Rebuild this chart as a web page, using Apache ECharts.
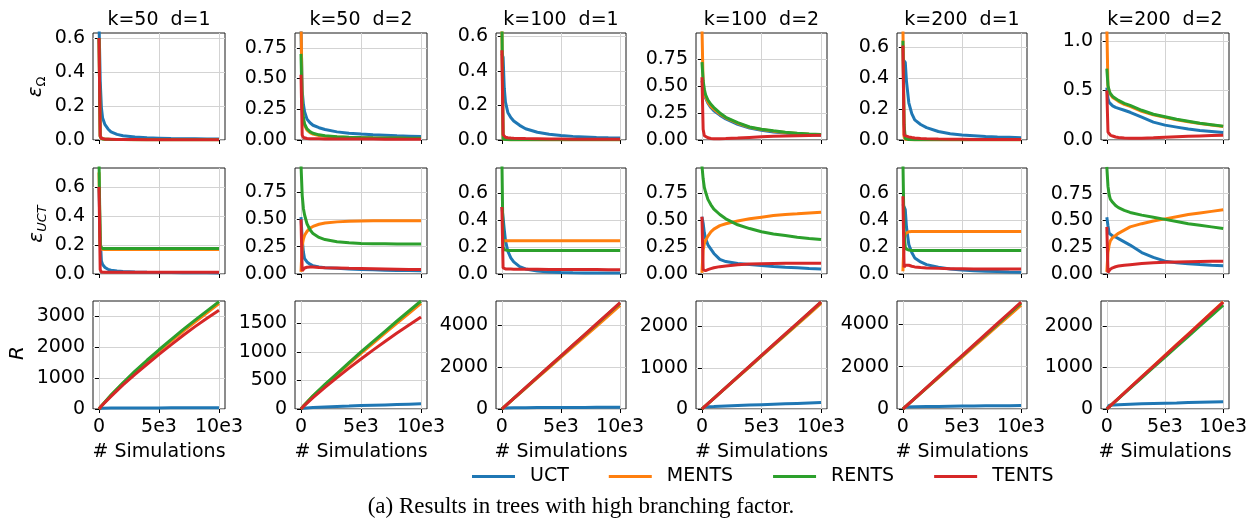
<!DOCTYPE html>
<html>
<head>
<meta charset="utf-8">
<script src="https://cdn.jsdelivr.net/npm/echarts@6/dist/echarts.min.js"></script>
<style>
html,body{margin:0;padding:0;background:#fff;}
#chart{width:1254px;height:523px;}
</style>
</head>
<body>
<div id="chart"></div>
<script>
// ---------- data ----------
const methods = ['UCT', 'MENTS', 'RENTS', 'TENTS'];
const panelTitles = ['k=50  d=1', 'k=50  d=2', 'k=100  d=1', 'k=100  d=2', 'k=200  d=1', 'k=200  d=2'];
const sims = [0, 100, 200, 300, 500, 750, 1000, 1500, 2000, 3000, 4000, 5000, 6000, 7000, 8000, 9000, 10000];
const simsR = [0, 200, 1000, 2000, 3000, 4000, 5000, 6000, 7000, 8000, 9000, 10000];
const xTickValues = [0, 5000, 10000];
const xTickLabels = ['0', '5e3', '10e3'];

// row 1: epsilon_Omega
const eOm_k50d1_UCT   = [0.7, 0.35, 0.19, 0.13, 0.09, 0.065, 0.048, 0.033, 0.025, 0.017, 0.013, 0.011, 0.009, 0.008, 0.007, 0.006, 0.006];
const eOm_k50d1_MENTS = [0.6, 0.02, 0.008, 0.006, 0.004, 0.004, 0.003, 0.003, 0.003, 0.002, 0.002, 0.002, 0.002, 0.002, 0.002, 0.002, 0.002];
const eOm_k50d1_RENTS = [0.6, 0.02, 0.009, 0.006, 0.005, 0.004, 0.003, 0.003, 0.003, 0.002, 0.002, 0.002, 0.002, 0.002, 0.002, 0.002, 0.002];
const eOm_k50d1_TENTS = [0.6, 0.025, 0.01, 0.007, 0.005, 0.004, 0.004, 0.003, 0.003, 0.003, 0.002, 0.002, 0.002, 0.002, 0.002, 0.002, 0.002];

const eOm_k50d2_UCT   = [0.9, 0.4, 0.29, 0.23, 0.17, 0.14, 0.12, 0.1, 0.085, 0.066, 0.055, 0.048, 0.042, 0.038, 0.034, 0.031, 0.028];
const eOm_k50d2_MENTS = [1.0, 0.25, 0.16, 0.12, 0.08, 0.06, 0.048, 0.036, 0.03, 0.024, 0.02, 0.018, 0.016, 0.015, 0.014, 0.013, 0.012];
const eOm_k50d2_RENTS = [0.7, 0.27, 0.18, 0.13, 0.09, 0.068, 0.055, 0.042, 0.035, 0.027, 0.023, 0.02, 0.018, 0.017, 0.016, 0.015, 0.014];
const eOm_k50d2_TENTS = [0.53, 0.04, 0.02, 0.015, 0.012, 0.011, 0.01, 0.01, 0.009, 0.009, 0.008, 0.008, 0.008, 0.007, 0.007, 0.007, 0.007];

const eOm_k100d1_UCT   = [0.5, 0.48, 0.3, 0.22, 0.16, 0.13, 0.11, 0.085, 0.065, 0.045, 0.033, 0.026, 0.021, 0.018, 0.015, 0.013, 0.012];
const eOm_k100d1_MENTS = [0.65, 0.005, 0.003, 0.003, 0.002, 0.002, 0.002, 0.002, 0.002, 0.002, 0.002, 0.002, 0.002, 0.002, 0.002, 0.002, 0.002];
const eOm_k100d1_RENTS = [0.7, 0.006, 0.004, 0.003, 0.003, 0.002, 0.002, 0.002, 0.002, 0.002, 0.002, 0.002, 0.002, 0.002, 0.002, 0.002, 0.002];
const eOm_k100d1_TENTS = [0.52, 0.03, 0.02, 0.016, 0.013, 0.011, 0.01, 0.009, 0.008, 0.007, 0.006, 0.006, 0.005, 0.005, 0.005, 0.005, 0.005];

const eOm_k100d2_UCT   = [0.55, 0.5, 0.44, 0.39, 0.34, 0.3, 0.27, 0.23, 0.195, 0.145, 0.11, 0.09, 0.075, 0.064, 0.056, 0.05, 0.045];
const eOm_k100d2_MENTS = [1.05, 0.5, 0.44, 0.4, 0.35, 0.31, 0.285, 0.24, 0.205, 0.155, 0.117, 0.097, 0.082, 0.07, 0.06, 0.053, 0.048];
const eOm_k100d2_RENTS = [0.72, 0.55, 0.47, 0.42, 0.37, 0.33, 0.3, 0.25, 0.21, 0.16, 0.12, 0.1, 0.085, 0.072, 0.062, 0.055, 0.05];
const eOm_k100d2_TENTS = [0.58, 0.1, 0.04, 0.03, 0.02, 0.014, 0.012, 0.012, 0.013, 0.018, 0.024, 0.03, 0.034, 0.037, 0.04, 0.042, 0.043];

const eOm_k200d1_UCT   = [0.52, 0.52, 0.5, 0.38, 0.24, 0.17, 0.13, 0.1, 0.08, 0.055, 0.04, 0.032, 0.027, 0.022, 0.019, 0.017, 0.015];
const eOm_k200d1_MENTS = [0.75, 0.02, 0.005, 0.003, 0.003, 0.002, 0.002, 0.002, 0.002, 0.002, 0.002, 0.002, 0.002, 0.002, 0.002, 0.002, 0.002];
const eOm_k200d1_RENTS = [0.64, 0.1, 0.01, 0.005, 0.003, 0.003, 0.002, 0.002, 0.002, 0.002, 0.002, 0.002, 0.002, 0.002, 0.002, 0.002, 0.002];
const eOm_k200d1_TENTS = [0.61, 0.03, 0.028, 0.025, 0.02, 0.016, 0.013, 0.01, 0.008, 0.006, 0.005, 0.005, 0.004, 0.004, 0.004, 0.004, 0.004];

const eOm_k200d2_UCT   = [0.53, 0.42, 0.38, 0.36, 0.345, 0.33, 0.32, 0.3, 0.28, 0.23, 0.18, 0.15, 0.13, 0.11, 0.095, 0.085, 0.075];
const eOm_k200d2_MENTS = [1.15, 0.54, 0.49, 0.46, 0.43, 0.41, 0.39, 0.36, 0.34, 0.29, 0.255, 0.23, 0.205, 0.185, 0.166, 0.151, 0.137];
const eOm_k200d2_RENTS = [0.72, 0.55, 0.5, 0.47, 0.44, 0.42, 0.4, 0.37, 0.35, 0.3, 0.26, 0.235, 0.21, 0.19, 0.17, 0.155, 0.14];
const eOm_k200d2_TENTS = [0.5, 0.08, 0.06, 0.05, 0.04, 0.03, 0.025, 0.02, 0.018, 0.018, 0.022, 0.027, 0.032, 0.037, 0.041, 0.045, 0.048];

// row 2: epsilon_UCT
const eUct_k50d1_UCT   = [0.6, 0.25, 0.09, 0.065, 0.045, 0.032, 0.026, 0.02, 0.017, 0.014, 0.012, 0.011, 0.01, 0.009, 0.008, 0.008, 0.007];
const eUct_k50d1_MENTS = [0.7, 0.2, 0.17, 0.168, 0.168, 0.168, 0.168, 0.168, 0.168, 0.168, 0.168, 0.168, 0.168, 0.168, 0.168, 0.168, 0.168];
const eUct_k50d1_RENTS = [0.8, 0.19, 0.178, 0.176, 0.175, 0.175, 0.175, 0.175, 0.175, 0.175, 0.175, 0.175, 0.175, 0.175, 0.175, 0.175, 0.175];
const eUct_k50d1_TENTS = [0.6, 0.03, 0.014, 0.012, 0.012, 0.012, 0.012, 0.012, 0.012, 0.012, 0.012, 0.012, 0.012, 0.012, 0.012, 0.012, 0.012];

const eUct_k50d2_UCT   = [0.52, 0.32, 0.2, 0.14, 0.11, 0.09, 0.075, 0.065, 0.058, 0.052, 0.046, 0.042, 0.038, 0.035, 0.033, 0.031, 0.03];
const eUct_k50d2_MENTS = [0.02, 0.26, 0.32, 0.355, 0.39, 0.42, 0.435, 0.455, 0.466, 0.477, 0.482, 0.485, 0.487, 0.488, 0.488, 0.488, 0.488];
const eUct_k50d2_RENTS = [1.0, 0.72, 0.6, 0.54, 0.46, 0.405, 0.37, 0.335, 0.315, 0.295, 0.285, 0.28, 0.277, 0.276, 0.275, 0.275, 0.275];
const eUct_k50d2_TENTS = [0.5, 0.03, 0.045, 0.055, 0.062, 0.064, 0.063, 0.06, 0.058, 0.055, 0.052, 0.05, 0.048, 0.046, 0.044, 0.042, 0.041];

const eUct_k100d1_UCT   = [0.5, 0.42, 0.33, 0.25, 0.17, 0.12, 0.09, 0.055, 0.038, 0.022, 0.014, 0.011, 0.009, 0.008, 0.007, 0.007, 0.007];
const eUct_k100d1_MENTS = [0.24, 0.248, 0.248, 0.248, 0.248, 0.248, 0.248, 0.248, 0.248, 0.248, 0.248, 0.248, 0.248, 0.248, 0.248, 0.248, 0.248];
const eUct_k100d1_RENTS = [0.85, 0.2, 0.18, 0.177, 0.176, 0.175, 0.175, 0.175, 0.175, 0.175, 0.175, 0.175, 0.175, 0.175, 0.175, 0.175, 0.175];
const eUct_k100d1_TENTS = [0.5, 0.045, 0.04, 0.038, 0.037, 0.037, 0.036, 0.036, 0.035, 0.035, 0.034, 0.034, 0.033, 0.033, 0.033, 0.032, 0.032];

const eUct_k100d2_UCT   = [0.53, 0.47, 0.38, 0.33, 0.27, 0.23, 0.19, 0.135, 0.115, 0.097, 0.088, 0.078, 0.07, 0.063, 0.057, 0.051, 0.046];
const eUct_k100d2_MENTS = [0.01, 0.22, 0.28, 0.31, 0.35, 0.39, 0.415, 0.447, 0.465, 0.49, 0.51, 0.525, 0.54, 0.55, 0.557, 0.565, 0.571];
const eUct_k100d2_RENTS = [1.0, 0.88, 0.8, 0.76, 0.69, 0.64, 0.6, 0.55, 0.51, 0.455, 0.42, 0.39, 0.37, 0.355, 0.34, 0.328, 0.318];
const eUct_k100d2_TENTS = [0.53, 0.04, 0.025, 0.03, 0.04, 0.05, 0.058, 0.068, 0.075, 0.085, 0.092, 0.095, 0.097, 0.099, 0.1, 0.1, 0.1];

const eUct_k200d1_UCT   = [0.52, 0.52, 0.48, 0.35, 0.22, 0.16, 0.12, 0.09, 0.07, 0.05, 0.038, 0.03, 0.025, 0.021, 0.018, 0.015, 0.013];
const eUct_k200d1_MENTS = [0.02, 0.25, 0.3, 0.31, 0.315, 0.317, 0.317, 0.317, 0.317, 0.317, 0.317, 0.317, 0.317, 0.317, 0.317, 0.317, 0.317];
const eUct_k200d1_RENTS = [0.85, 0.3, 0.2, 0.185, 0.178, 0.176, 0.175, 0.175, 0.175, 0.175, 0.175, 0.175, 0.175, 0.175, 0.175, 0.175, 0.175];
const eUct_k200d1_TENTS = [0.58, 0.05, 0.065, 0.068, 0.065, 0.058, 0.053, 0.048, 0.045, 0.042, 0.04, 0.039, 0.038, 0.038, 0.037, 0.037, 0.037];

const eUct_k200d2_UCT   = [0.53, 0.45, 0.38, 0.37, 0.355, 0.345, 0.33, 0.3, 0.27, 0.2, 0.155, 0.12, 0.105, 0.095, 0.088, 0.082, 0.078];
const eUct_k200d2_MENTS = [0.02, 0.2, 0.27, 0.31, 0.34, 0.36, 0.38, 0.41, 0.44, 0.47, 0.495, 0.515, 0.535, 0.555, 0.57, 0.585, 0.6];
const eUct_k200d2_RENTS = [1.0, 0.82, 0.74, 0.7, 0.67, 0.64, 0.62, 0.595, 0.575, 0.55, 0.53, 0.51, 0.49, 0.47, 0.455, 0.44, 0.425];
const eUct_k200d2_TENTS = [0.44, 0.015, 0.03, 0.045, 0.058, 0.068, 0.074, 0.082, 0.087, 0.097, 0.104, 0.109, 0.112, 0.115, 0.117, 0.119, 0.12];

// row 3: R
const R_k50d1_UCT   = [0, 25, 30, 32, 34, 35, 36, 37, 38, 39, 40, 40];
const R_k50d1_MENTS = [0, 100, 440, 830, 1200, 1550, 1880, 2200, 2520, 2820, 3120, 3420];
const R_k50d1_RENTS = [0, 100, 450, 850, 1230, 1580, 1920, 2250, 2570, 2880, 3180, 3480];
const R_k50d1_TENTS = [0, 95, 410, 780, 1120, 1450, 1770, 2080, 2380, 2670, 2940, 3200];

const R_k50d2_UCT   = [0, 15, 25, 35, 45, 52, 60, 66, 72, 78, 84, 90];
const R_k50d2_MENTS = [0, 50, 225, 420, 605, 790, 975, 1150, 1330, 1505, 1675, 1850];
const R_k50d2_RENTS = [0, 50, 230, 430, 620, 810, 1000, 1180, 1360, 1540, 1715, 1890];
const R_k50d2_TENTS = [0, 45, 200, 380, 550, 715, 875, 1030, 1180, 1330, 1470, 1610];

const R_k100d1_UCT   = [0, 50, 60, 65, 68, 70, 72, 74, 76, 78, 80, 82];
const R_k100d1_MENTS = [0, 95, 490, 985, 1475, 1965, 2460, 2950, 3440, 3930, 4420, 4920];
const R_k100d1_RENTS = [0, 100, 503, 1006, 1509, 2012, 2515, 3018, 3521, 4024, 4527, 5030];
const R_k100d1_TENTS = [0, 101, 505, 1010, 1515, 2020, 2525, 3030, 3535, 4040, 4545, 5050];

const R_k100d2_UCT   = [0, 50, 60, 75, 85, 95, 105, 115, 125, 135, 145, 155];
const R_k100d2_MENTS = [0, 51, 256, 512, 768, 1024, 1280, 1536, 1792, 2048, 2304, 2560];
const R_k100d2_RENTS = [0, 52, 259, 518, 777, 1036, 1295, 1554, 1813, 2072, 2331, 2590];
const R_k100d2_TENTS = [0, 52, 260, 520, 780, 1040, 1300, 1560, 1820, 2080, 2340, 2600];

const R_k200d1_UCT   = [0, 95, 105, 115, 122, 130, 137, 143, 148, 153, 157, 160];
const R_k200d1_MENTS = [0, 98, 490, 980, 1470, 1960, 2450, 2940, 3430, 3920, 4410, 4900];
const R_k200d1_RENTS = [0, 100, 500, 1000, 1500, 2000, 2500, 3000, 3500, 4000, 4500, 5000];
const R_k200d1_TENTS = [0, 101, 505, 1010, 1515, 2020, 2525, 3030, 3535, 4040, 4545, 5050];

const R_k200d2_UCT   = [0, 90, 105, 115, 125, 133, 140, 147, 155, 162, 169, 175];
const R_k200d2_MENTS = [0, 52, 258, 516, 774, 1032, 1290, 1548, 1806, 2064, 2322, 2580];
const R_k200d2_RENTS = [0, 50, 250, 500, 750, 1000, 1250, 1500, 1750, 2000, 2250, 2500];
const R_k200d2_TENTS = [0, 51, 257, 514, 771, 1028, 1285, 1542, 1799, 2056, 2313, 2570];

// y-axis upper limits and tick labels
const yMaxRow1 = [0.63, 0.87, 0.62, 0.99, 0.69, 1.08];
const yMaxRow2 = [0.73, 0.97, 0.79, 0.98, 0.79, 0.99];
const yMaxRow3 = [3500, 1890, 5130, 2620, 5100, 2600];
const ticksTenth = ['0.0', '0.2', '0.4', '0.6'];
const ticksQuarter = ['0.00', '0.25', '0.50', '0.75'];
const ticksHalf = ['0.0', '0.5', '1.0'];
const ticks3000 = ['0', '1000', '2000', '3000'];
const ticks1500 = ['0', '500', '1000', '1500'];
const ticks4000 = ['0', '2000', '4000'];
const ticks2000 = ['0', '1000', '2000'];

// ---------- assembly ----------
const colors = ['#1f77b4', '#ff7f0e', '#2ca02c', '#d62728'];
const rows = [
  { xs: sims, ymax: yMaxRow1, ticks: [ticksTenth, ticksQuarter, ticksTenth, ticksQuarter, ticksTenth, ticksHalf], panels: [
    [eOm_k50d1_UCT, eOm_k50d1_MENTS, eOm_k50d1_RENTS, eOm_k50d1_TENTS],
    [eOm_k50d2_UCT, eOm_k50d2_MENTS, eOm_k50d2_RENTS, eOm_k50d2_TENTS],
    [eOm_k100d1_UCT, eOm_k100d1_MENTS, eOm_k100d1_RENTS, eOm_k100d1_TENTS],
    [eOm_k100d2_UCT, eOm_k100d2_MENTS, eOm_k100d2_RENTS, eOm_k100d2_TENTS],
    [eOm_k200d1_UCT, eOm_k200d1_MENTS, eOm_k200d1_RENTS, eOm_k200d1_TENTS],
    [eOm_k200d2_UCT, eOm_k200d2_MENTS, eOm_k200d2_RENTS, eOm_k200d2_TENTS]] },
  { xs: sims, ymax: yMaxRow2, ticks: [ticksTenth, ticksQuarter, ticksTenth, ticksQuarter, ticksTenth, ticksQuarter], panels: [
    [eUct_k50d1_UCT, eUct_k50d1_MENTS, eUct_k50d1_RENTS, eUct_k50d1_TENTS],
    [eUct_k50d2_UCT, eUct_k50d2_MENTS, eUct_k50d2_RENTS, eUct_k50d2_TENTS],
    [eUct_k100d1_UCT, eUct_k100d1_MENTS, eUct_k100d1_RENTS, eUct_k100d1_TENTS],
    [eUct_k100d2_UCT, eUct_k100d2_MENTS, eUct_k100d2_RENTS, eUct_k100d2_TENTS],
    [eUct_k200d1_UCT, eUct_k200d1_MENTS, eUct_k200d1_RENTS, eUct_k200d1_TENTS],
    [eUct_k200d2_UCT, eUct_k200d2_MENTS, eUct_k200d2_RENTS, eUct_k200d2_TENTS]] },
  { xs: simsR, ymax: yMaxRow3, ticks: [ticks3000, ticks1500, ticks4000, ticks2000, ticks4000, ticks2000], panels: [
    [R_k50d1_UCT, R_k50d1_MENTS, R_k50d1_RENTS, R_k50d1_TENTS],
    [R_k50d2_UCT, R_k50d2_MENTS, R_k50d2_RENTS, R_k50d2_TENTS],
    [R_k100d1_UCT, R_k100d1_MENTS, R_k100d1_RENTS, R_k100d1_TENTS],
    [R_k100d2_UCT, R_k100d2_MENTS, R_k100d2_RENTS, R_k100d2_TENTS],
    [R_k200d1_UCT, R_k200d1_MENTS, R_k200d1_RENTS, R_k200d1_TENTS],
    [R_k200d2_UCT, R_k200d2_MENTS, R_k200d2_RENTS, R_k200d2_TENTS]] }
];

const FONT = 'DejaVu Sans';
const FS = 19;
const colLeft = [93, 295, 496, 696, 897, 1101];
const colWidth = [132, 132, 130, 131, 130, 128];
const rowTop = [33, 168, 301];
const rowHeight = [107, 106, 108];

const grid = [], xAxis = [], yAxis = [], series = [], graphic = [];

rows.forEach((row, r) => {
  row.panels.forEach((panel, c) => {
    const idx = r * 6 + c;
    grid.push({ left: colLeft[c], top: rowTop[r], width: colWidth[c], height: rowHeight[r],
      show: true, borderColor: '#1a1a1a', borderWidth: 1, backgroundColor: 'transparent',
      containLabel: false, outerBoundsMode: 'none' });
    xAxis.push({
      gridIndex: idx, type: 'value', min: -500, max: 10500,
      axisLine: { show: false },
      axisTick: { show: true, customValues: xTickValues, length: 4, lineStyle: { color: '#000', width: 1 } },
      axisLabel: { show: r === 2, customValues: xTickValues, margin: 9,
        formatter: v => xTickLabels[xTickValues.indexOf(v)] ?? '',
        fontSize: FS, fontFamily: FONT, color: '#000' },
      splitLine: { show: true, lineStyle: { color: '#d3d3d3', width: 1 } },
      name: r === 2 ? '# Simulations' : '', nameLocation: 'middle', nameGap: 34,
      nameTextStyle: { fontSize: FS, fontFamily: FONT, color: '#000' }
    });
    const labels = row.ticks[c];
    const vals = labels.map(parseFloat);
    yAxis.push({
      gridIndex: idx, type: 'value', min: 0, max: row.ymax[c],
      axisLine: { show: false },
      axisTick: { show: true, customValues: vals, length: 4, lineStyle: { color: '#000', width: 1 } },
      axisLabel: { show: true, customValues: vals, margin: 8,
        formatter: v => { const i = vals.findIndex(t => Math.abs(t - v) < 1e-9); return i >= 0 ? labels[i] : ''; },
        fontSize: FS, fontFamily: FONT, color: '#000' },
      splitLine: { show: true, lineStyle: { color: '#d3d3d3', width: 1 } }
    });
    panel.forEach((ys, m) => {
      series.push({
        type: 'line', name: methods[m], xAxisIndex: idx, yAxisIndex: idx,
        data: row.xs.map((x, i) => [x, ys[i]]),
        symbol: 'none', showSymbol: false, clip: true,
        lineStyle: { color: colors[m], width: 3 }, itemStyle: { color: colors[m] },
        emphasis: { disabled: true }, animation: false, z: 2 + m
      });
    });
  });
});

// panel titles
panelTitles.forEach((t, c) => {
  graphic.push({ type: 'text', x: colLeft[c] + colWidth[c] / 2, y: 20,
    style: { text: t, fontSize: FS, fontFamily: FONT, fill: '#000', align: 'center', verticalAlign: 'middle' } });
});
// y-axis labels
graphic.push({ type: 'text', x: 37, y: 87, rotation: Math.PI / 2,
  style: { text: '{e|ε}{s|Ω}', align: 'center', verticalAlign: 'middle', fill: '#000',
    rich: { e: { fontSize: 20, fontStyle: 'italic', fontFamily: FONT, lineHeight: 22, verticalAlign: 'top', fill: '#000' },
            s: { fontSize: 13, fontFamily: FONT, lineHeight: 13, verticalAlign: 'bottom', padding: [7, 0, 0, 0], fill: '#000' } } } });
graphic.push({ type: 'text', x: 38, y: 224, rotation: Math.PI / 2,
  style: { text: '{e|ε}{s|UCT}', align: 'center', verticalAlign: 'middle', fill: '#000',
    rich: { e: { fontSize: 20, fontStyle: 'italic', fontFamily: FONT, lineHeight: 22, verticalAlign: 'top', fill: '#000' },
            s: { fontSize: 13, fontStyle: 'italic', fontFamily: FONT, lineHeight: 13, verticalAlign: 'bottom', padding: [7, 0, 0, 0], fill: '#000' } } } });
graphic.push({ type: 'text', x: 18, y: 353, rotation: Math.PI / 2,
  style: { text: 'R', fontSize: 20, fontStyle: 'italic', fontFamily: FONT, fill: '#000', align: 'center', verticalAlign: 'middle' } });
// caption
graphic.push({ type: 'text', x: 581, y: 507,
  style: { text: '(a) Results in trees with high branching factor.', fontSize: 23, fontFamily: 'Liberation Serif', fill: '#000', align: 'center', verticalAlign: 'middle' } });

const chart = echarts.init(document.getElementById('chart'), null, { renderer: 'canvas' });
chart.setOption({
  animation: false,
  backgroundColor: '#fff',
  grid, xAxis, yAxis, series, graphic,
  legend: {
    data: methods, left: 467, top: 462, icon: 'rect', itemWidth: 43, itemHeight: 3, itemGap: 40,
    textStyle: { fontSize: FS, fontFamily: FONT, color: '#000', padding: [0, 0, 0, 10] },
    selectedMode: false
  },
  tooltip: { show: false }
});
</script>
</body>
</html>
